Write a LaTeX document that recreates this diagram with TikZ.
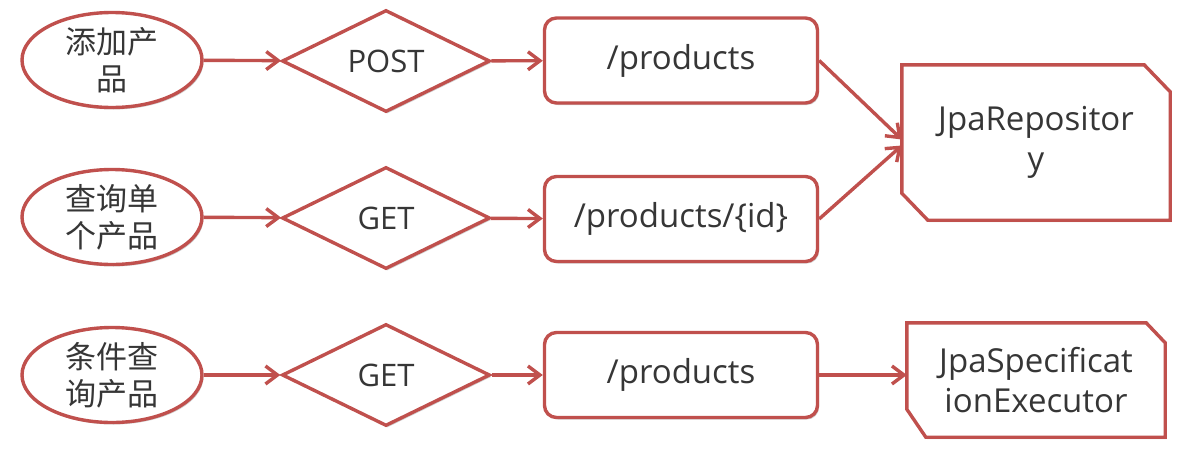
\documentclass[tikz,border=0pt]{standalone}
\usepackage{fontspec}
\setmainfont{Open Sans}
\newfontfamily\cjk{Noto Sans CJK SC}
\usetikzlibrary{shapes.geometric,arrows.meta,shadows}
\definecolor{edgered}{HTML}{C0504D}
\definecolor{txt}{HTML}{363636}
\tikzset{
  shade1/.style={drop shadow={shadow xshift=1.5pt, shadow yshift=-2pt, opacity=0.18, fill=black}},
  base/.style={draw=edgered, line width=3.4pt, fill=white, text=txt, inner sep=0pt, align=center, shade1},
  oval/.style={base, ellipse, minimum width=180pt, minimum height=95pt,
    font=\cjk\fontsize{31}{37}\selectfont},
  verb/.style={base, diamond, minimum width=208pt, minimum height=102pt,
    font=\fontsize{31}{38}\selectfont},
  res/.style={base, rounded corners=12pt, minimum width=273pt, minimum height=85pt,
    font=\fontsize{33}{40}\selectfont},
  repo/.style={text=txt, inner sep=0pt, align=center, font=\fontsize{33}{40}\selectfont},
  repoline/.style={draw=edgered, line width=3.4pt, fill=white, line join=miter, shade1},
  conn/.style={draw=edgered, line width=3.4pt, -{Straight Barb[length=12pt,width=18pt,line width=3.4pt]}}
}
\begin{document}
\begin{tikzpicture}[x=1pt,y=-1pt]
\useasboundingbox (0,0) rectangle (1194,469);
\fill[white] (0,0) rectangle (1194,469);
% row 1
\node[oval] (e1) at (112,60) {添加产\\品};
\node[verb] (d1) at (386,61) {POST};
\node[res]  (r1) at (681,60.5) {/products};
% row 2
\node[oval] (e2) at (112,217) {查询单\\个产品};
\node[verb] (d2) at (386,218) {GET};
\node[res]  (r2) at (681,219) {/products/\{id\}};
% row 3
\node[oval] (e3) at (112,375) {条件查\\询产品};
\node[verb] (d3) at (386,375) {GET};
\node[res]  (r3) at (681,375) {/products};
% targets (snipped-corner boxes)
\node[repo, minimum width=268pt, minimum height=155pt] (jr) at (1036,142.5) {};
\draw[repoline] (jr.north west) -- ([xshift=-26pt]jr.north east) -- ([yshift=-27pt]jr.north east)
  -- (jr.south east) -- ([xshift=26pt]jr.south west) -- ([yshift=27pt]jr.south west) -- cycle;
\node[repo] (jrt) at (jr.center) {JpaRepositor\\y};
\node[repo, minimum width=258pt, minimum height=114pt] (js) at (1036,380) {};
\draw[repoline] (js.north west) -- ([xshift=-19pt]js.north east) -- ([yshift=-20pt]js.north east)
  -- (js.south east) -- ([xshift=19pt]js.south west) -- ([yshift=28pt]js.south west) -- cycle;
\node[repo] (jst) at (js.center) {JpaSpecificat\\ionExecutor};
% connectors
\draw[conn] (e1) -- (d1);
\draw[conn] (d1) -- (r1);
\draw[conn] (e2) -- (d2);
\draw[conn] (d2) -- (r2);
\draw[conn] (e3) -- (d3);
\draw[conn] (d3) -- (r3);
\draw[conn] (r1.east) -- ([yshift=3pt]jr.west);
\draw[conn] (r2.east) -- ([yshift=-3pt]jr.west);
\draw[conn] (r3) -- (r3 -| js.west);
\end{tikzpicture}
\end{document}
